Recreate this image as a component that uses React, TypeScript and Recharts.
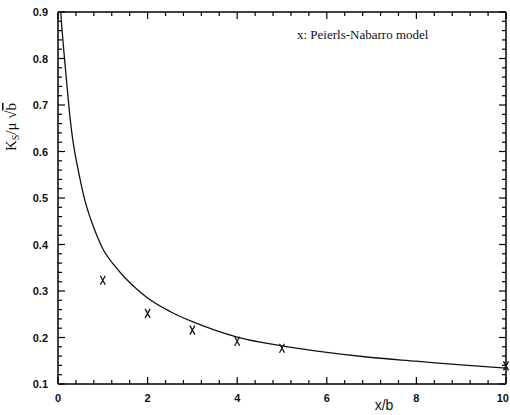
import React from "react";
import {
  ComposedChart,
  Line,
  Scatter,
  XAxis,
  YAxis,
} from "recharts";

// continuous model curve
const curveX = [0.06, 0.1, 0.15, 0.2, 0.25, 0.33, 0.4, 0.5, 0.6, 0.75, 0.9, 1, 1.25, 1.5, 1.75, 2, 2.5, 3, 3.5, 4, 5, 6, 7, 8, 9, 10];
const curveY = [0.9, 0.85, 0.795, 0.742, 0.69, 0.625, 0.585, 0.537, 0.495, 0.449, 0.412, 0.391, 0.356, 0.328, 0.305, 0.285, 0.256, 0.234, 0.216, 0.201, 0.182, 0.168, 0.157, 0.149, 0.141, 0.134];

// Peierls-Nabarro model points
const pnX = [1, 2, 3, 4, 5, 10];
const pnY = [0.323, 0.252, 0.216, 0.192, 0.177, 0.139];

const xMajor = [0, 2, 4, 6, 8, 10];
const yMajor = [0.1, 0.2, 0.3, 0.4, 0.5, 0.6, 0.7, 0.8, 0.9];

const curveData = curveX.map((x, i) => ({ x, y: curveY[i] }));
const pnData = pnX.map((x, i) => ({ x, y: pnY[i] }));

// minor ticks: 5 per x major step, 5 per y major step
const xTicks: number[] = [];
for (let i = 0; i <= 25; i++) xTicks.push(+(i * 0.4).toFixed(2));
const yTicks: number[] = [];
for (let i = 0; i <= 40; i++) yTicks.push(+(0.1 + i * 0.02).toFixed(2));

const isMajorX = (v: number) => xMajor.some((m) => Math.abs(m - v) < 1e-6);
const isMajorY = (v: number) => yMajor.some((m) => Math.abs(m - v) < 1e-6);

const labelFont = {
  fontFamily: "Liberation Sans, Arial, sans-serif",
  fontWeight: 700,
  fontSize: 11,
  fill: "#111",
};

const BottomTick = (props: any) => {
  const { x, y, payload } = props;
  const major = isMajorX(payload.value);
  const last = payload.value === 10;
  return (
    <g>
      <line x1={x} x2={x} y1={y} y2={y - (major ? 7 : 4)} stroke="#000" strokeWidth={1.2} />
      {major && (
        <text
          x={last ? 509 : x}
          y={y + 18}
          textAnchor={last ? "end" : "middle"}
          {...labelFont}
        >
          {payload.value}
        </text>
      )}
    </g>
  );
};

const TopTick = (props: any) => {
  const { x, y, payload } = props;
  const major = isMajorX(payload.value);
  return <line x1={x} x2={x} y1={y} y2={y + (major ? 7 : 4)} stroke="#000" strokeWidth={1.2} />;
};

const LeftTick = (props: any) => {
  const { x, y, payload } = props;
  const major = isMajorY(payload.value);
  return (
    <g>
      <line x1={x} x2={x + (major ? 7 : 4)} y1={y} y2={y} stroke="#000" strokeWidth={1.2} />
      {major && (
        <text x={x - 10} y={y + 4} textAnchor="end" {...labelFont}>
          {payload.value.toFixed(1)}
        </text>
      )}
    </g>
  );
};

const RightTick = (props: any) => {
  const { x, y, payload } = props;
  const major = isMajorY(payload.value);
  return <line x1={x} x2={x - (major ? 7 : 4)} y1={y} y2={y} stroke="#000" strokeWidth={1.2} />;
};

const CrossMark = (props: any) => {
  const { cx, cy } = props;
  return (
    <path
      d={`M${cx - 2.5},${cy - 4.5}L${cx + 2.5},${cy + 4.5}M${cx + 2.5},${cy - 4.5}L${cx - 2.5},${cy + 4.5}`}
      stroke="#111"
      strokeWidth={1.3}
      fill="none"
    />
  );
};

export default function App() {
  return (
    <div style={{ position: "absolute", left: 0, top: 0, background: "#fff" }}>
      <ComposedChart
        width={510}
        height={415}
        margin={{ top: 11, right: 3, bottom: 1, left: 7 }}
      >
        <XAxis
          xAxisId="b"
          dataKey="x"
          type="number"
          domain={[0, 10]}
          ticks={xTicks}
          interval={0}
          tickSize={0}
          tickMargin={0}
          tick={<BottomTick />}
          axisLine={{ stroke: "#000", strokeWidth: 1.5 }}
          height={30}
        />
        <XAxis
          xAxisId="t"
          orientation="top"
          dataKey="x"
          type="number"
          domain={[0, 10]}
          ticks={xTicks}
          interval={0}
          tickSize={0}
          tickMargin={0}
          tick={<TopTick />}
          axisLine={{ stroke: "#000", strokeWidth: 1.5 }}
          height={1}
        />
        <YAxis
          yAxisId="l"
          dataKey="y"
          type="number"
          domain={[0.1, 0.9]}
          ticks={yTicks}
          interval={0}
          tickSize={0}
          tickMargin={0}
          tick={<LeftTick />}
          axisLine={{ stroke: "#000", strokeWidth: 1.5 }}
          width={51}
        />
        <YAxis
          yAxisId="r"
          orientation="right"
          dataKey="y"
          type="number"
          domain={[0.1, 0.9]}
          ticks={yTicks}
          interval={0}
          tickSize={0}
          tickMargin={0}
          tick={<RightTick />}
          axisLine={{ stroke: "#000", strokeWidth: 1.5 }}
          width={1}
        />
        <Line
          xAxisId="b"
          yAxisId="l"
          data={curveData}
          dataKey="y"
          type="monotone"
          stroke="#111"
          strokeWidth={1.3}
          dot={false}
          isAnimationActive={false}
        />
        <Line
          xAxisId="t"
          yAxisId="r"
          data={curveData}
          dataKey="y"
          stroke="none"
          dot={false}
          isAnimationActive={false}
        />
        <Scatter
          xAxisId="b"
          yAxisId="l"
          data={pnData}
          dataKey="y"
          shape={<CrossMark />}
          isAnimationActive={false}
        />
        <text
          x={297}
          y={39}
          fontFamily="Liberation Serif, Times New Roman, serif"
          fontSize={13}
          fill="#111"
        >
          x: Peierls-Nabarro model
        </text>
        <text
          x={384}
          y={410}
          textAnchor="middle"
          fontFamily="Liberation Sans, Arial, sans-serif"
          fontSize={14}
          fill="#111"
        >
          x/b
        </text>
        <text
          transform="translate(16,127) rotate(-90)"
          textAnchor="middle"
          fontFamily="Liberation Serif, Times New Roman, serif"
          fontSize={15}
          fill="#111"
        >
          K
          <tspan fontSize={10} dy={3}>S</tspan>
          <tspan dy={-3}>/μ √</tspan>
          <tspan textDecoration="overline">b</tspan>
        </text>
      </ComposedChart>
    </div>
  );
}
